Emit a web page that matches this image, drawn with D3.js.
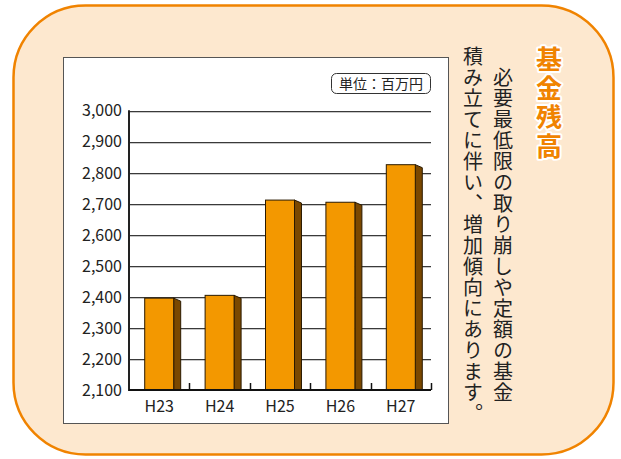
<!DOCTYPE html>
<html>
<head>
<meta charset="utf-8">
<script src="https://cdn.jsdelivr.net/npm/d3@7"></script>
<style>
  html, body { margin: 0; padding: 0; background: #fff; }
  svg { display: block; }
  text { font-family: "Noto Sans CJK JP", "Noto Sans", sans-serif; }
</style>
</head>
<body>
<div id="chart"></div>
<script>
// data
const years = ['H23', 'H24', 'H25', 'H26', 'H27'];
const balances = [2396, 2405, 2712, 2705, 2826];
const yTickValues = [2100, 2200, 2300, 2400, 2500, 2600, 2700, 2800, 2900, 3000];
const unitLabel = '単位：百万円';
const title = '基金残高';
const noteLines = ['必要最低限の取り崩しや定額の基金', '積み立てに伴い、増加傾向にあります。'];

const W = 621, H = 459;
const svg = d3.select('#chart').append('svg').attr('width', W).attr('height', H);

// background panel
svg.append('rect')
  .attr('x', 13.5).attr('y', 5.5)
  .attr('width', 600).attr('height', 449)
  .attr('rx', 72).attr('ry', 72)
  .attr('fill', '#fde8cf')
  .attr('stroke', '#f08300')
  .attr('stroke-width', 2.5);

// chart frame
svg.append('rect')
  .attr('x', 63.5).attr('y', 57.5)
  .attr('width', 385).attr('height', 366)
  .attr('fill', '#fff')
  .attr('stroke', '#555')
  .attr('stroke-width', 1);

// scales
const plotLeft = 129, plotRight = 431, plotTop = 110.7, plotBottom = 390;
const y = d3.scaleLinear().domain([2100, 3000]).range([plotBottom, plotTop]);
const x = d3.scaleBand().domain(years).range([plotLeft, plotRight])
  .paddingInner(0.52).paddingOuter(0.26);
const xSlots = d3.scaleBand().domain(years).range([plotLeft, plotRight]).padding(0);

// gridlines
const grid = svg.append('g');
grid.selectAll('.shadow')
  .data(yTickValues.slice(1))
  .enter()
  .append('line')
  .attr('x1', plotLeft).attr('x2', plotRight)
  .attr('y1', d => Math.round(y(d)) + 1.5)
  .attr('y2', d => Math.round(y(d)) + 1.5)
  .attr('stroke', '#c8c8c8');
grid.selectAll('.line')
  .data(yTickValues.slice(1))
  .enter()
  .append('line')
  .attr('x1', plotLeft).attr('x2', plotRight)
  .attr('y1', d => Math.round(y(d)) + 0.5)
  .attr('y2', d => Math.round(y(d)) + 0.5)
  .attr('stroke', '#3a3a3a');

// y tick labels
svg.append('g')
  .selectAll('text')
  .data(yTickValues)
  .enter()
  .append('text')
  .attr('x', 122)
  .attr('y', d => y(d))
  .attr('dy', '0.36em')
  .attr('text-anchor', 'end')
  .attr('font-size', 16)
  .attr('fill', '#222')
  .text(d => d3.format(',')(d));

// bars (front face + side face)
const depth = 7, drop = 3;
const bars = svg.append('g');
const barG = bars.selectAll('g')
  .data(years.map((k, i) => ({ year: k, value: balances[i] })))
  .enter()
  .append('g');

barG.append('path')
  .attr('d', d => {
    const x1 = x(d.year) + x.bandwidth();
    const top = y(d.value);
    return `M${x1},${top} L${x1 + depth},${top + drop} L${x1 + depth},${plotBottom} L${x1},${plotBottom} Z`;
  })
  .attr('fill', '#7a4800')
  .attr('stroke', '#2a1a00')
  .attr('stroke-width', 1);

barG.append('rect')
  .attr('x', d => x(d.year))
  .attr('y', d => y(d.value))
  .attr('width', x.bandwidth())
  .attr('height', d => plotBottom - y(d.value))
  .attr('fill', '#f39800')
  .attr('stroke', '#2a1a00')
  .attr('stroke-width', 1);

// axes lines
svg.append('line')
  .attr('x1', plotLeft).attr('x2', plotLeft)
  .attr('y1', plotTop - 0.5).attr('y2', plotBottom + 1)
  .attr('stroke', '#222').attr('stroke-width', 2);
svg.append('line')
  .attr('x1', plotLeft).attr('x2', plotRight)
  .attr('y1', plotBottom).attr('y2', plotBottom)
  .attr('stroke', '#111').attr('stroke-width', 2);

// bottom ticks at slot boundaries
const tickXs = years.slice(1).map(d => xSlots(d)).concat([plotRight]);
svg.append('g')
  .selectAll('line')
  .data(tickXs)
  .enter()
  .append('line')
  .attr('x1', d => Math.round(d) + 0.5).attr('x2', d => Math.round(d) + 0.5)
  .attr('y1', plotBottom - 7).attr('y2', plotBottom)
  .attr('stroke', '#111').attr('stroke-width', 1.5);

// x labels
svg.append('g')
  .selectAll('text')
  .data(years)
  .enter()
  .append('text')
  .attr('x', d => x(d) + x.bandwidth() / 2)
  .attr('y', 412)
  .attr('text-anchor', 'middle')
  .attr('font-size', 16)
  .attr('fill', '#222')
  .text(d => d);

// unit label
svg.append('rect')
  .attr('x', 331.5).attr('y', 73.5)
  .attr('width', 99).attr('height', 20)
  .attr('rx', 5).attr('ry', 5)
  .attr('fill', '#fff')
  .attr('stroke', '#333');
svg.append('text')
  .attr('x', 381).attr('y', 83.5)
  .attr('dy', '0.36em')
  .attr('text-anchor', 'middle')
  .attr('font-size', 14)
  .attr('fill', '#222')
  .text(unitLabel);

// title (vertical)
svg.append('text')
  .attr('x', 549).attr('y', 46)
  .attr('writing-mode', 'vertical-rl')
  .attr('font-size', 26)
  .attr('font-weight', 'bold')
  .attr('letter-spacing', 3)
  .attr('fill', '#f08300')
  .attr('stroke', '#fff')
  .attr('stroke-width', 4)
  .attr('stroke-linejoin', 'round')
  .style('paint-order', 'stroke')
  .text(title);

// note (vertical, right to left)
const noteX = [503, 473];
const noteY = [67, 46];
svg.append('g')
  .selectAll('text')
  .data(noteLines)
  .enter()
  .append('text')
  .attr('x', (d, i) => noteX[i])
  .attr('y', (d, i) => noteY[i])
  .attr('writing-mode', 'vertical-rl')
  .attr('font-size', 20)
  .attr('letter-spacing', 1)
  .attr('fill', '#222')
  .text(d => d);
</script>
</body>
</html>
